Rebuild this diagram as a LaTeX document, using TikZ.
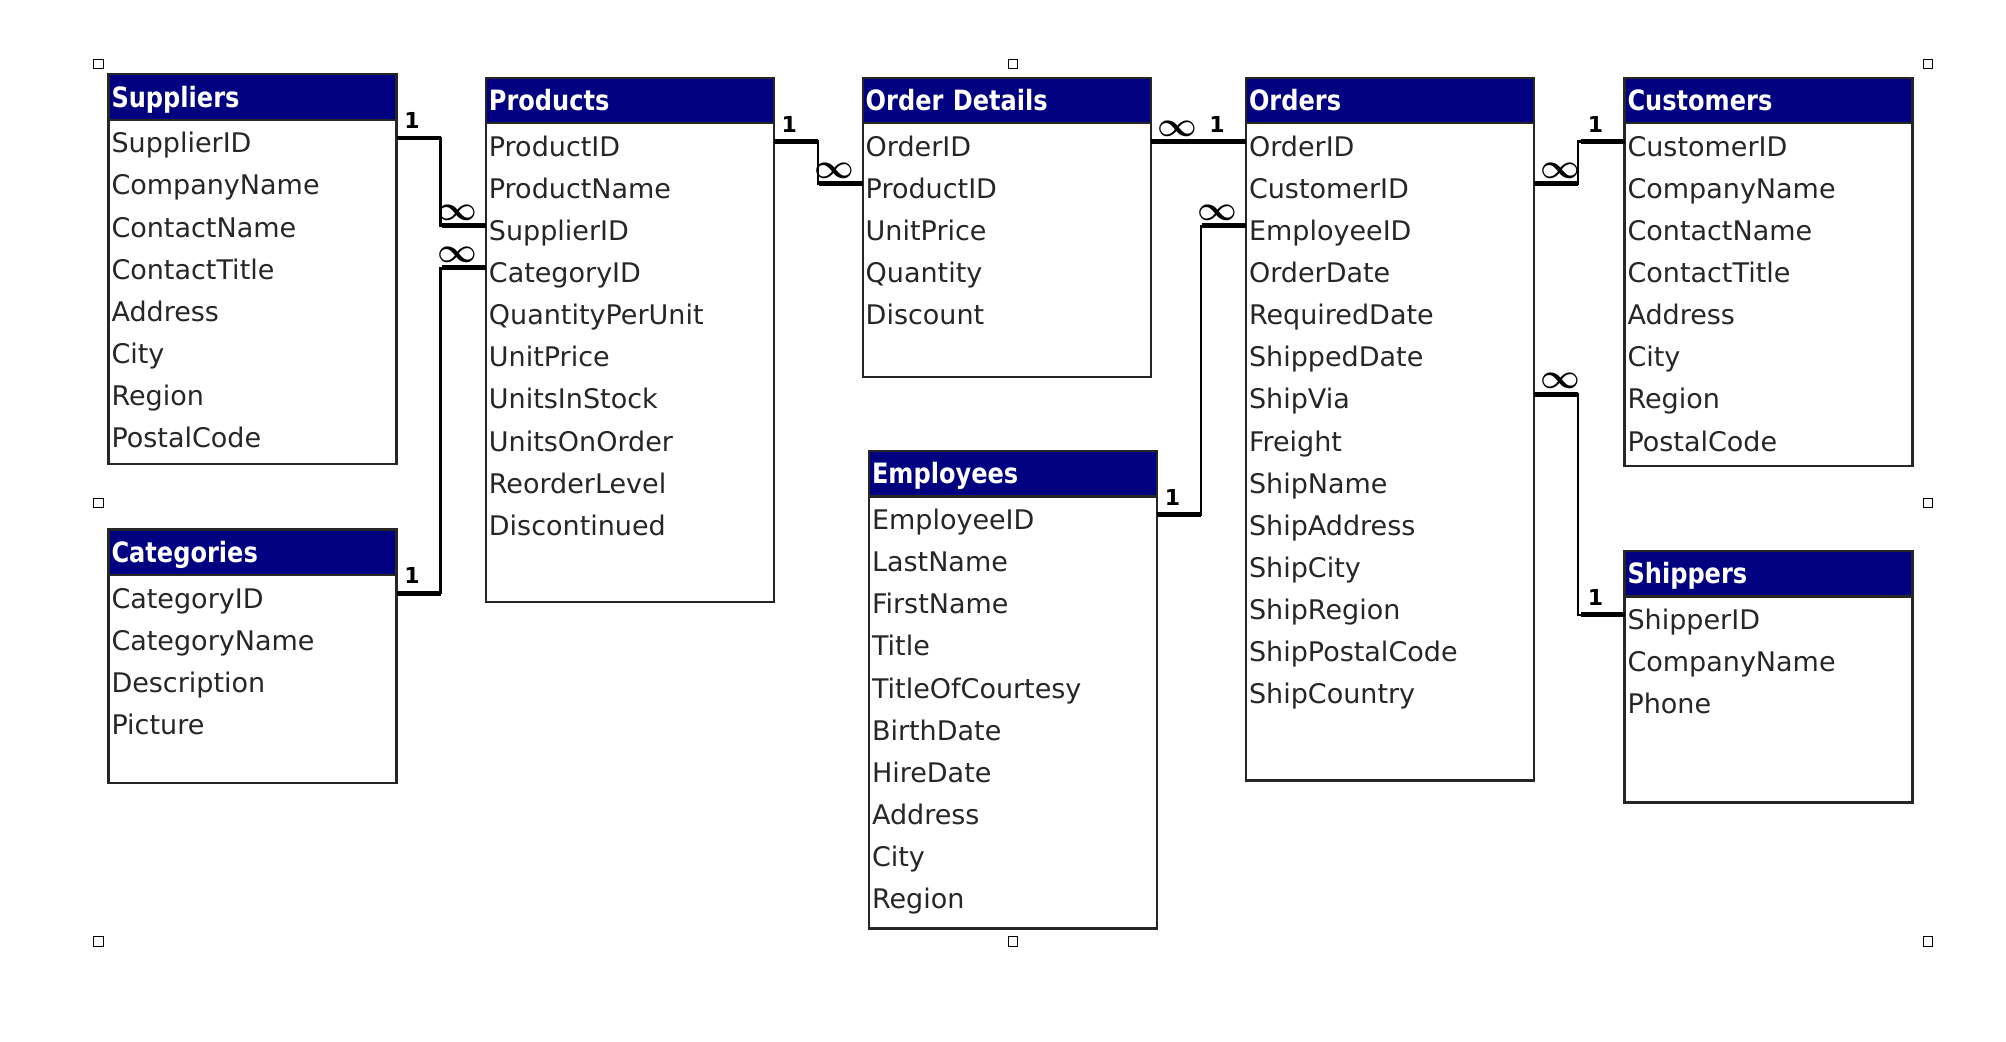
\documentclass[tikz,border=0pt]{standalone}
\usepackage{fontspec}
\setmainfont{DejaVu Sans}
\newfontfamily\headfont{DejaVu Sans}[FakeStretch=0.86]
\usepackage{tikz}
\usetikzlibrary{positioning}
\definecolor{accessnavy}{RGB}{0,0,128}

\begin{document}
\begin{tikzpicture}[
  x=0.5pt, y=-0.5pt,
  head/.style={anchor=north west, draw=black!85, line width=1.2pt, fill=accessnavy, text=white,
    font=\headfont\bfseries\fontsize{14pt}{16pt}\selectfont, text width=141pt, inner xsep=1.5pt,
    inner ysep=0pt, minimum height=22.75pt, text height=10.2pt, text depth=0pt, outer sep=0pt, align=left},
  tbl/.style={draw=black!85, line width=1.2pt, text width=141pt, inner xsep=1.5pt, inner ysep=0pt, outer sep=0pt},
  field/.style={anchor=north, text=black!85, font=\fontsize{13.5pt}{16pt}\selectfont, text width=141pt,
    inner xsep=1.5pt, inner ysep=0pt, minimum height=21.05pt, text height=14.8pt, text depth=0pt, outer sep=0pt, align=left},
  link/.style={draw=black, line width=1.1pt},
  stub/.style={draw=black, line width=2.4pt},
  one/.style={inner sep=0pt, font=\fontsize{11pt}{11pt}\selectfont\bfseries},
  many/.style={inner sep=0pt, font=\fontsize{16pt}{16pt}\selectfont\boldmath},
  handle/.style={draw=black, line width=0.5pt, fill=white, minimum size=4.6pt, inner sep=0pt}
]
\useasboundingbox (0,0) rectangle (2006,1042);

\node[handle] (h1) at (98.5,64) {};
\node[handle] (h2) at (1013,64) {};
\node[handle] (h3) at (1928,64) {};
\node[handle] (h4) at (98.5,503) {};
\node[handle] (h5) at (1928,503) {};
\node[handle] (h6) at (98.5,941.5) {};
\node[handle] (h7) at (1013,941.5) {};
\node[handle] (h8) at (1928,941.5) {};

\node[head] (sup) at (108.5,74.3) {Suppliers};
\node[tbl, below=0pt of sup, minimum height=172.25pt] (supb) {};
\foreach \f [count=\i] in {SupplierID,CompanyName,ContactName,ContactTitle,Address,City,Region,PostalCode}
  \node[field] (sup\i) at ([yshift={1.375pt-(\i-1)*21.05pt}]sup.south) {\f};

\node[head] (cat) at (108.5,529.5) {Categories};
\node[tbl, below=0pt of cat, minimum height=103.85pt] (catb) {};
\foreach \f [count=\i] in {CategoryID,CategoryName,Description,Picture}
  \node[field] (cat\i) at ([yshift={1.375pt-(\i-1)*21.05pt}]cat.south) {\f};

\node[head] (prd) at (485.9,77.8) {Products};
\node[tbl, below=0pt of prd, minimum height=239.25pt] (prdb) {};
\foreach \f [count=\i] in {ProductID,ProductName,SupplierID,CategoryID,QuantityPerUnit,UnitPrice,UnitsInStock,UnitsOnOrder,ReorderLevel,Discontinued}
  \node[field] (prd\i) at ([yshift={1.375pt-(\i-1)*21.05pt}]prd.south) {\f};

\node[head] (odt) at (862.7,77.8) {Order Details};
\node[tbl, below=0pt of odt, minimum height=126.75pt] (odtb) {};
\foreach \f [count=\i] in {OrderID,ProductID,UnitPrice,Quantity,Discount}
  \node[field] (odt\i) at ([yshift={1.375pt-(\i-1)*21.05pt}]odt.south) {\f};

\node[head] (emp) at (869,451) {Employees};
\node[tbl, below=0pt of emp, minimum height=215.9pt] (empb) {};
\foreach \f [count=\i] in {EmployeeID,LastName,FirstName,Title,TitleOfCourtesy,BirthDate,HireDate,Address,City,Region}
  \node[field] (emp\i) at ([yshift={1.375pt-(\i-1)*21.05pt}]emp.south) {\f};

\node[head] (ord) at (1246,77.8) {Orders};
\node[tbl, below=0pt of ord, minimum height=328.6pt] (ordb) {};
\foreach \f [count=\i] in {OrderID,CustomerID,EmployeeID,OrderDate,RequiredDate,ShippedDate,ShipVia,Freight,ShipName,ShipAddress,ShipCity,ShipRegion,ShipPostalCode,ShipCountry}
  \node[field] (ord\i) at ([yshift={1.375pt-(\i-1)*21.05pt}]ord.south) {\f};

\node[head] (cus) at (1624.5,77.8) {Customers};
\node[tbl, below=0pt of cus, minimum height=171.25pt] (cusb) {};
\foreach \f [count=\i] in {CustomerID,CompanyName,ContactName,ContactTitle,Address,City,Region,PostalCode}
  \node[field] (cus\i) at ([yshift={1.375pt-(\i-1)*21.05pt}]cus.south) {\f};

\node[head] (shp) at (1624.5,551) {Shippers};
\node[tbl, below=0pt of shp, minimum height=103.05pt] (shpb) {};
\foreach \f [count=\i] in {ShipperID,CompanyName,Phone}
  \node[field] (shp\i) at ([yshift={1.375pt-(\i-1)*21.05pt}]shp.south) {\f};

% relationships
\draw[link] (sup1.east) -- ++(22pt,0) |- (prd3.west);
\draw[stub] (sup1.east) node[one, above right=3.5pt and 2.7pt] (o1) {1} -- ++(22pt,0);
\draw[stub] (prd3.west) node[many, above left=1.5pt and 3pt] (m1) {$\infty$} -- ++(-22pt,0);

\draw[link] (cat1.east) -- ++(22pt,0) |- (prd4.west);
\draw[stub] (cat1.east) node[one, above right=3.5pt and 2.7pt] (o2) {1} -- ++(22pt,0);
\draw[stub] (prd4.west) node[many, above left=1.5pt and 3pt] (m2) {$\infty$} -- ++(-22pt,0);

\draw[link] (prd1.east) -- ++(22pt,0) |- (odt2.west);
\draw[stub] (prd1.east) node[one, above right=3.5pt and 2.7pt] (o3) {1} -- ++(22pt,0);
\draw[stub] (odt2.west) node[many, above left=1.5pt and 3pt] (m3) {$\infty$} -- ++(-22pt,0);

\draw[stub] (odt1.east) node[many, above right=1.5pt and 2pt] (m4) {$\infty$} -- (ord1.west) node[one, above left=3.5pt and 9.5pt] (o4) {1};

\draw[link] (emp1.east) -- ++(22pt,0) |- (ord3.west);
\draw[stub] (emp1.east) node[one, above right=3.5pt and 2.7pt] (o5) {1} -- ++(22pt,0);
\draw[stub] (ord3.west) node[many, above left=1.5pt and 3pt] (m5) {$\infty$} -- ++(-22pt,0);

\draw[link] (ord2.east) -- ++(22pt,0) |- (cus1.west);
\draw[stub] (ord2.east) node[many, above right=1.5pt and 2pt] (m6) {$\infty$} -- ++(22pt,0);
\draw[stub] (cus1.west) node[one, above left=3.5pt and 9.5pt] (o6) {1} -- ++(-22pt,0);

\draw[link] (ord7.east) -- ++(22pt,0) |- (shp1.west);
\draw[stub] (ord7.east) node[many, above right=1.5pt and 2pt] (m7) {$\infty$} -- ++(22pt,0);
\draw[stub] (shp1.west) node[one, above left=3.5pt and 9.5pt] (o7) {1} -- ++(-22pt,0);

\end{tikzpicture}
\end{document}
